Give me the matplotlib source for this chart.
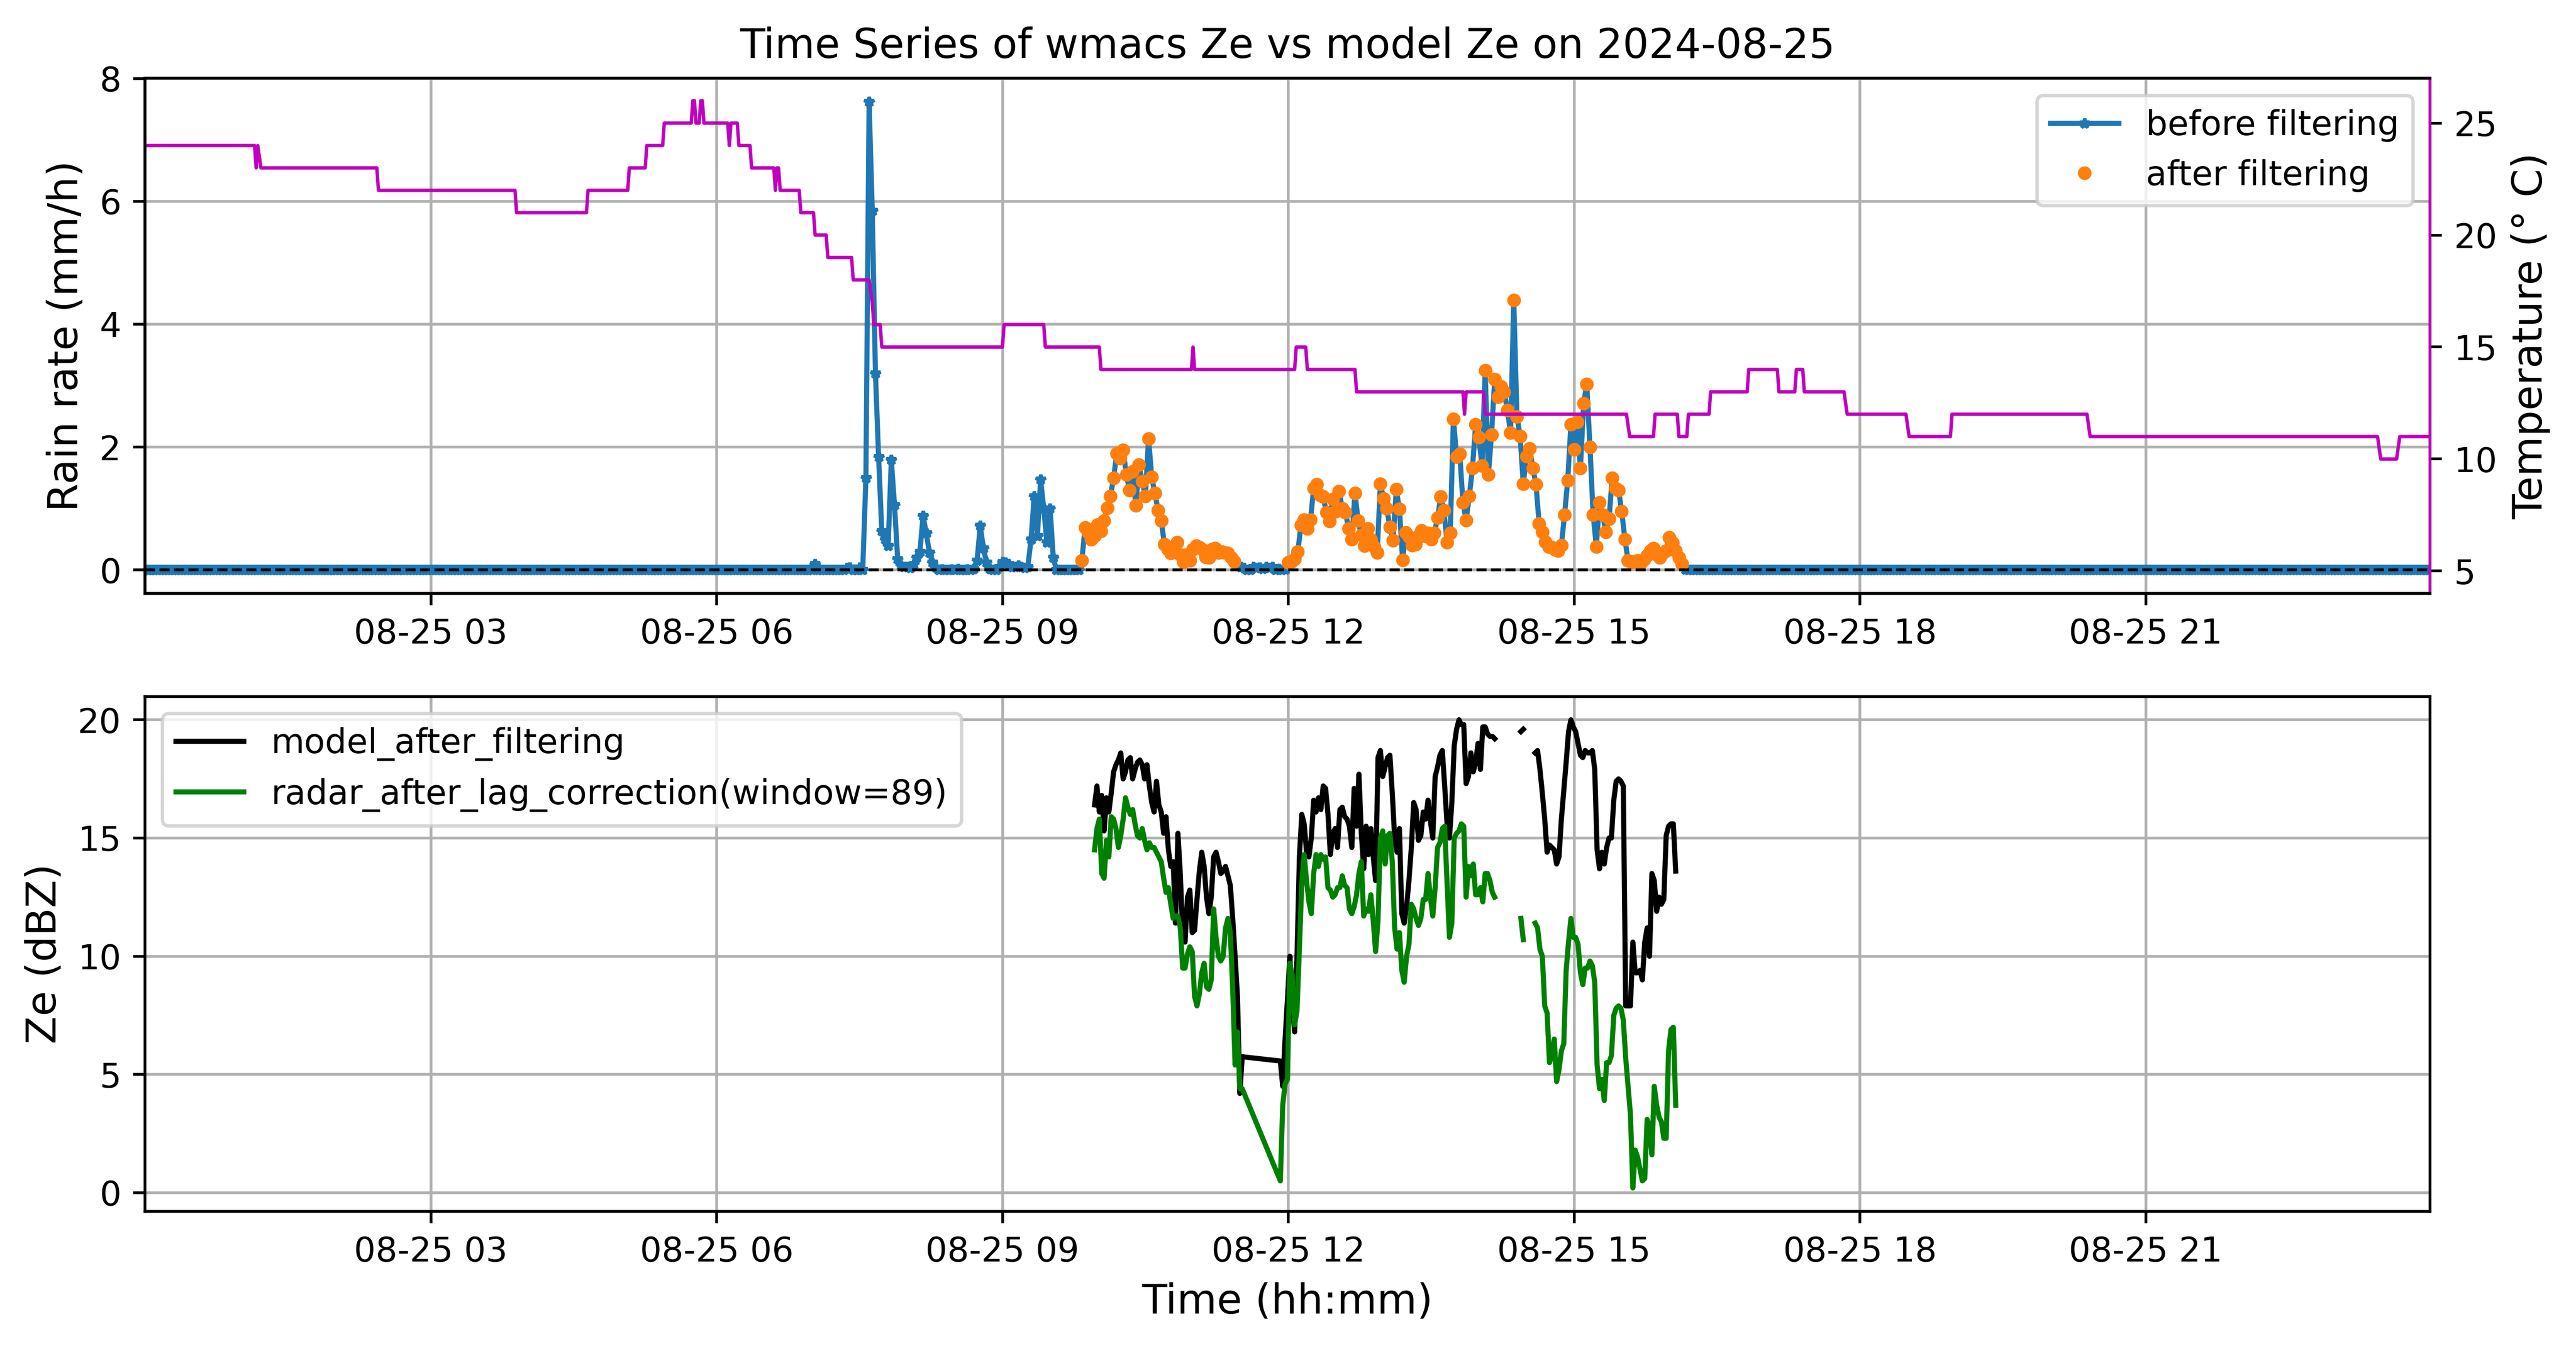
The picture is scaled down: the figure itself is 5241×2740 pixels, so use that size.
import numpy as np
import pandas as pd
import matplotlib
matplotlib.use("Agg")
import matplotlib.pyplot as plt
import matplotlib.dates as mdates

day = "2024-08-25"

# rain rate (mm/h), 2 min steps; only 07:00 - 16:16 is non zero
rain_active = [
    0.0, 0.1, 0.0, 0.0, 0.0, 0.0, 0.0, 0.0, 0.0, 0.0,          # 07:00
    0.0, 0.03, 0.04, 0.0, 0.0, 0.04, 0.0, 1.5, 7.62, 5.85,
    3.2, 1.84, 0.63, 0.5, 0.39, 1.79, 1.06, 0.18, 0.07, 0.05,
    0.05, 0.03, 0.1, 0.2, 0.3, 0.88, 0.6, 0.28, 0.12, 0.04,     # 08:00
    0.0, 0.01, 0.0, 0.0, 0.01, 0.0, 0.02, 0.0, 0.0, 0.01,
    0.0, 0.02, 0.15, 0.72, 0.35, 0.12, 0.02, 0.0, 0.0, 0.05,
    0.13, 0.12, 0.1, 0.05, 0.05, 0.07, 0.05, 0.03, 0.05, 0.5,   # 09:00
    1.2, 0.55, 1.47, 1.0, 0.45, 1.0, 0.2, 0.0, 0.0, 0.0,
    0.0, 0.0, 0.0, 0.0, 0.0, 0.15, 0.69, 0.61, 0.5, 0.55,
    0.74, 0.63, 0.8, 1.01, 1.2, 1.5, 1.9, 1.82, 1.95, 1.55,     # 10:00
    1.3, 1.6, 1.05, 1.71, 1.44, 1.2, 2.14, 1.51, 1.25, 0.97,
    0.8, 0.42, 0.34, 0.27, 0.3, 0.45, 0.25, 0.13, 0.25, 0.15,
    0.34, 0.39, 0.37, 0.33, 0.21, 0.2, 0.34, 0.35, 0.28, 0.3,   # 11:00
    0.28, 0.27, 0.2, 0.14, 0.08, 0.05, 0.03, 0.0, 0.0, 0.05,
    0.03, 0.04, 0.02, 0.05, 0.03, 0.05, 0.0, 0.02, 0.0, 0.01,
    0.12, 0.14, 0.18, 0.3, 0.73, 0.82, 0.67, 0.82, 1.33, 1.39,  # 12:00
    1.22, 1.19, 0.94, 0.79, 1.15, 0.95, 1.28, 1.0, 0.94, 0.67,
    0.5, 1.25, 0.8, 0.57, 0.39, 0.67, 0.5, 0.38, 0.28, 1.4,
    1.16, 1.0, 0.7, 0.48, 1.31, 0.99, 0.16, 0.61, 0.54, 0.4,    # 13:00
    0.42, 0.55, 0.64, 0.55, 0.6, 0.5, 0.6, 0.85, 1.19, 0.97,
    0.45, 0.6, 2.46, 1.84, 1.89, 1.1, 0.81, 1.2, 1.66, 2.37,
    2.16, 1.7, 3.25, 1.55, 2.2, 3.1, 2.82, 2.98, 2.9, 2.6,      # 14:00
    2.23, 4.39, 2.5, 2.18, 1.4, 1.85, 1.98, 1.66, 1.39, 0.75,
    0.62, 0.46, 0.38, 0.37, 0.33, 0.31, 0.4, 0.9, 1.46, 2.37,
    1.96, 2.41, 1.66, 2.71, 3.02, 2.0, 0.9, 0.38, 1.1, 0.9,     # 15:00
    0.62, 0.83, 1.5, 1.33, 1.3, 0.95, 0.5, 0.15, 0.13, 0.14,
    0.15, 0.11, 0.17, 0.23, 0.31, 0.35, 0.25, 0.2, 0.27, 0.31,
    0.53, 0.44, 0.31, 0.2, 0.1, 0.01, 0.0, 0.0, 0.0,            # 16:00
]
rain_before = [0.0] * 210 + rain_active
rain_before = rain_before + [0.0] * (720 - len(rain_before))

# periods kept by the filter
filter_windows = [("09:50", "11:26"), ("12:00", "16:08")]

# temperature (deg C), level changes
temp_times = ["00:00", "01:09", "01:10", "01:11", "01:13", "02:26", "02:27", "03:53",
              "03:54", "04:38", "04:39", "05:04", "05:05", "05:15", "05:16", "05:26",
              "05:27", "05:44", "05:45", "05:46", "05:47", "05:49", "05:50", "05:51",
              "05:52", "06:07", "06:08", "06:09", "06:13", "06:14", "06:21", "06:22",
              "06:36", "06:37", "06:38", "06:39", "06:40", "06:52", "06:53", "07:01",
              "07:02", "07:09", "07:10", "07:25", "07:26", "07:36", "07:38", "07:39",
              "07:43", "07:44", "09:00", "09:01", "09:26", "09:27", "10:01", "10:02",
              "10:59", "11:00", "11:01", "12:04", "12:05", "12:11", "12:12", "12:42",
              "12:43", "13:50", "13:51", "13:52", "14:03", "14:04", "15:33", "15:35",
              "15:50", "15:51", "16:05", "16:06", "16:11", "16:12", "16:25", "16:26",
              "16:49", "16:50", "17:08", "17:09", "17:19", "17:20", "17:24", "17:25",
              "17:50", "17:52", "18:29", "18:31", "18:57", "18:58", "20:23", "20:25",
              "23:26", "23:28", "23:38", "23:40", "23:59"]
temp_vals = [24, 24, 23, 24, 23, 23, 22, 22,
             21, 21, 22, 22, 23, 23, 24, 24,
             25, 25, 26, 26, 25, 25, 26, 26,
             25, 25, 24, 25, 25, 24, 24, 23,
             23, 22, 23, 23, 22, 22, 21, 21,
             20, 20, 19, 19, 18, 18, 17, 16,
             16, 15, 15, 16, 16, 15, 15, 14,
             14, 15, 14, 14, 15, 15, 14, 14,
             13, 13, 12, 13, 13, 12, 12, 11,
             11, 12, 12, 11, 11, 12, 12, 13,
             13, 14, 14, 13, 13, 14, 14, 13,
             13, 12, 12, 11, 11, 12, 12, 11,
             11, 10, 10, 11, 11]

# Ze (dBZ), 90 s steps, two blocks with no rows in between
ze_start_a = "09:58"
model_ze_a = [
    16.4, 17.2, 16.1, 16.8, 15.3, 16.7, 16.1, 16.9, 17.8, 18.1,
    18.3, 18.6, 17.5, 17.8, 18.3, 18.4, 17.5, 17.9, 18.2, 18.3,
    18.1, 17.5, 18.1, 17.2, 16.5, 16.1, 17.4, 16.4, 16.1, 15.2,
    15.9, 14.5, 13.8, 14.0, 11.4, 15.2, 13.5, 11.0, 10.6, 12.5,
    12.8, 11.0, 11.1, 12.4, 13.6, 14.4, 13.8, 12.5, 11.8, 12.5,
    14.2, 14.4, 14.0, 13.5, 13.6, 13.8, 13.4, 13.0, 11.6, 10.0,
    8.3, 4.2, 5.75,
]
radar_ze_a = [
    14.5, 15.4, 15.8, 13.5, 13.3, 14.9, 14.2, 15.9, 15.8, 15.4,
    14.6, 15.1, 15.8, 16.7, 16.3, 16.0, 16.2, 15.6, 15.1, 15.0,
    15.4, 14.9, 14.5, 14.8, 14.6, 14.6, 14.4, 14.2, 14.0, 13.3,
    12.7, 12.9, 12.2, 11.6, 11.7, 11.7, 11.2, 9.5, 9.5, 10.1,
    10.4, 10.2, 8.3, 7.9, 8.4, 9.3, 9.7, 8.7, 8.6, 9.0,
    12.0, 10.8, 10.0, 9.8, 10.0, 11.2, 11.6, 11.0, 8.6, 5.4,
    6.8, 4.4, 4.4,
]
nan = np.nan
ze_start_b = "11:55"
model_ze_b = [
    5.57, 4.5, 6.5, 8.2, 10.0, 8.0, 6.8, 10.0, 14.2, 16.0,
    15.6, 14.4, 14.2, 15.0, 16.6, 16.1, 16.7, 16.2, 17.2, 17.1,
    16.0, 14.3, 15.2, 15.4, 14.6, 16.2, 16.3, 15.9, 15.8, 15.5,
    14.6, 17.1, 15.5, 17.7, 15.2, 13.7, 15.5, 14.3, 15.4, 14.2,
    13.2, 18.4, 18.7, 17.6, 18.0, 18.4, 18.5, 16.9, 15.0, 14.4,
    15.4, 11.8, 11.4, 12.1, 13.2, 14.6, 16.5, 16.2, 14.9, 15.1,
    16.1, 15.8, 16.6, 15.7, 15.0, 17.6, 18.0, 18.5, 18.7, 17.2,
    15.6, 15.0, 16.5, 18.9, 19.6, 20.0, 19.8, 19.8, 17.3, 17.6,
    18.6, 17.8, 18.2, 19.0, 17.9, 19.7, 19.7, 19.4, 19.3, 19.3,
    19.2, nan, nan, nan, nan, nan, nan, nan, nan, nan,
    nan, 19.5, 19.6, nan, nan, nan, nan, 18.6, 18.7, 17.9,
    16.9, 15.8, 14.4, 14.7, 14.6, 14.5, 13.9, 14.2, 15.8, 17.0,
    18.2, 19.5, 20.0, 19.7, 19.5, 19.0, 18.5, 18.4, 18.7, 18.6,
    18.6, 18.7, 17.9, 14.5, 13.7, 14.4, 13.9, 14.6, 15.0, 15.0,
    16.6, 17.4, 17.5, 17.4, 17.2, 7.9, 7.9, 7.9, 10.6, 9.3,
    9.3, 9.4, 9.0, 10.6, 11.2, 10.0, 13.5, 13.2, 11.9, 12.5,
    12.2, 12.4, 15.1, 15.5, 15.6, 15.6, 13.6,
]
radar_ze_b = [
    0.5, 3.7, 4.6, 4.8, 9.7, 9.2, 7.1, 7.7, 10.3, 13.1,
    14.3, 13.2, 12.3, 11.8, 13.5, 14.3, 13.8, 14.3, 14.1, 14.2,
    12.9, 12.8, 12.5, 12.6, 12.9, 12.9, 13.4, 13.0, 12.9, 12.0,
    11.8, 12.1, 12.6, 13.5, 14.0, 11.7, 12.0, 11.9, 12.6, 11.5,
    10.2, 11.5, 15.0, 15.3, 13.9, 15.1, 15.2, 14.0, 11.2, 10.3,
    11.0, 9.4, 8.9, 10.0, 10.5, 12.2, 12.0, 11.6, 11.3, 11.6,
    12.4, 12.4, 13.5, 12.5, 11.7, 12.9, 14.6, 14.8, 15.4, 15.5,
    13.1, 10.8, 11.4, 15.0, 15.2, 15.3, 15.6, 15.5, 12.5, 13.8,
    13.4, 13.9, 12.6, 12.6, 12.9, 12.3, 13.5, 13.5, 13.2, 12.7,
    12.5, nan, nan, nan, nan, nan, nan, nan, nan, nan,
    nan, 11.6, 10.7, nan, nan, nan, nan, 11.4, 11.2, 10.3,
    10.0, 7.9, 7.6, 5.5, 5.8, 6.5, 4.7, 5.2, 6.0, 6.3,
    9.4, 10.6, 11.6, 10.8, 10.8, 10.5, 9.3, 8.8, 9.5, 9.5,
    9.8, 9.6, 8.9, 5.4, 4.4, 4.8, 3.9, 5.5, 5.5, 5.8,
    7.5, 7.8, 7.9, 7.8, 7.3, 5.7, 4.5, 3.3, 0.2, 1.8,
    1.5, 1.0, 0.5, 0.6, 3.1, 2.8, 1.6, 4.5, 3.7, 3.2,
    3.0, 2.3, 2.3, 6.0, 6.9, 7.0, 3.7,
]

# ---- build series
t_rain = pd.date_range(day + " 00:00", periods=len(rain_before), freq="2min")
rain = pd.Series(rain_before, index=t_rain)
keep = np.zeros(len(rain), dtype=bool)
for a, b in filter_windows:
    keep |= (t_rain >= pd.Timestamp(day + " " + a)) & (t_rain <= pd.Timestamp(day + " " + b))
rain_after = rain.where(keep)

t_temp = pd.to_datetime([day + " " + s for s in temp_times])

t_ze = pd.date_range(day + " " + ze_start_a, periods=len(model_ze_a), freq="90s").append(
    pd.date_range(day + " " + ze_start_b, periods=len(model_ze_b), freq="90s"))
model_ze = np.array(model_ze_a + model_ze_b)
radar_ze = np.array(radar_ze_a + radar_ze_b)

# ---- plot
fig, (ax1, ax3) = plt.subplots(2, 1, figsize=(5241 / 500, 2740 / 500), dpi=500)
fig.subplots_adjust(left=0.0563, right=0.9433, bottom=0.1, top=0.9418, hspace=0.2)

ax1.plot(rain.index, rain.values, '*-', color='C0', ms=3, label='before filtering')
ax1.plot(rain_after.index, rain_after.values, '.', color='C1', ls='', label='after filtering')
ax1.axhline(0, color='k', ls='--', lw=0.8)
ax1.set_ylabel('Rain rate (mm/h)', fontsize=12)
ax1.set_title('Time Series of wmacs Ze vs model Ze on ' + day)
ax1.grid(True)
ax1.legend(loc='upper right')

ax2 = ax1.twinx()
ax2.plot(t_temp, temp_vals, color='m', lw=1)
ax2.set_ylabel('Temperature (° C)', fontsize=12)
ax2.set_ylim(4, 27)
ax2.spines['right'].set_color('m')

ax3.plot(t_ze, model_ze, color='k', label='model_after_filtering')
ax3.plot(t_ze, radar_ze, color='g', label='radar_after_lag_correction(window=89)')
ax3.set_ylabel('Ze (dBZ)', fontsize=12)
ax3.set_xlabel('Time (hh:mm)', fontsize=12)
ax3.grid(True)
ax3.legend(loc='upper left')

for ax in (ax1, ax3):
    ax.set_xlim(pd.Timestamp(day + " 00:00"), pd.Timestamp(day + " 23:59"))
    ax.xaxis.set_major_locator(mdates.HourLocator(byhour=range(3, 24, 3)))
    ax.xaxis.set_major_formatter(mdates.DateFormatter('%m-%d %H'))

fig.savefig('out.png', dpi=500)
